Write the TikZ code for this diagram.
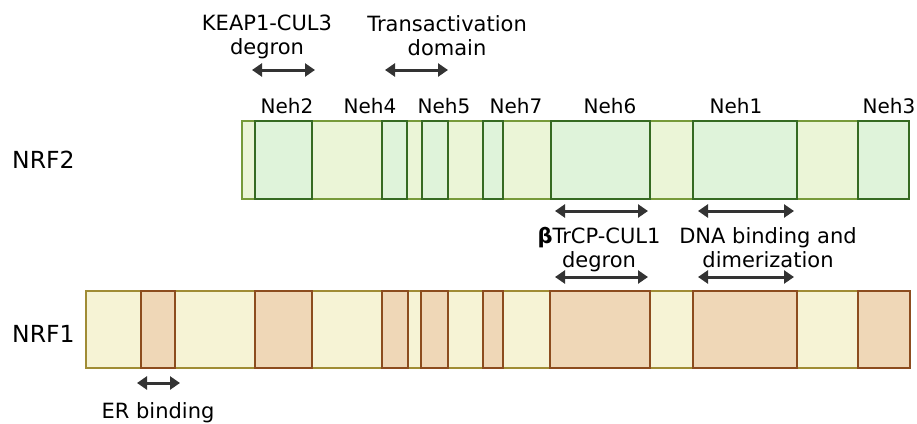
\documentclass[tikz,border=0pt]{standalone}
\usepackage{fontspec}
\setmainfont{DejaVu Sans}
\usetikzlibrary{arrows.meta}
\definecolor{nrftwolight}{HTML}{EBF5D7}
\definecolor{nrftwodom}{HTML}{DFF3DA}
\definecolor{greenline}{HTML}{366A22}
\definecolor{oliveline}{HTML}{779A3A}
\definecolor{nrfonelight}{HTML}{F6F3D5}
\definecolor{nrfonedom}{HTML}{EFD7B7}
\definecolor{brownline}{HTML}{8C4C1E}
\definecolor{goldline}{HTML}{A08C35}
\definecolor{arrowgray}{HTML}{333333}

\tikzset{
  span/.style={arrowgray, line width=3pt,
    {Triangle[length=10pt,width=13pt]}-{Triangle[length=10pt,width=13pt]}},
  lbl/.style={align=center, anchor=north, inner sep=0pt,
    font=\fontsize{21}{24}\selectfont},
  nehlbl/.style={anchor=base, inner sep=0pt, font=\fontsize{20}{24}\selectfont},
  protlbl/.style={anchor=west, inner sep=0pt, font=\fontsize{23.5}{28}\selectfont},
}

\begin{document}
\begin{tikzpicture}[x=1pt,y=-1pt]
    \useasboundingbox (0,0) rectangle (917,423);

    % NRF2
    \draw[oliveline, line width=2pt, fill=nrftwolight] (242,121) rectangle (909,199);
    \foreach \a/\b in {255/312, 382/407, 422/448, 483/503, 551/650, 693/797, 858/909}
        \draw[greenline, line width=2.6pt, fill=nrftwodom] (\a,121) rectangle (\b,199);

    % NRF1
    \draw[goldline, line width=2pt, fill=nrfonelight] (86,291) rectangle (910,368);
    \foreach \a/\b in {141/175, 255/312, 382/408, 421/448, 483/503, 550/650, 693/797, 858/910}
        \draw[brownline, line width=2.6pt, fill=nrfonedom] (\a,291) rectangle (\b,368);

    \node[protlbl] (nrf2) at (12,160) {NRF2};
    \node[protlbl] (nrf1) at (12,334) {NRF1};

    \node[nehlbl] (neh2) at (287,113) {Neh2};
    \node[nehlbl] (neh4) at (370,113) {Neh4};
    \node[nehlbl] (neh5) at (444,113) {Neh5};
    \node[nehlbl] (neh7) at (516,113) {Neh7};
    \node[nehlbl] (neh6) at (610,113) {Neh6};
    \node[nehlbl] (neh1) at (736,113) {Neh1};
    \node[nehlbl] (neh3) at (889,113) {Neh3};

    \node[lbl] (keap) at (267,15) {KEAP1-CUL3\\degron};
    \node[lbl] (trans) at (447,15) {Transactivation\\domain};
    \node[lbl] (btrcp) at (599,227) {{\bfseries β}TrCP-CUL1\\degron};
    \node[lbl] (dna) at (768,227) {DNA binding and\\dimerization};
    \node[lbl] (er) at (158,402) {ER binding};

    \coordinate (keap-l) at (252,70);  \coordinate (keap-r) at (315,70);
    \coordinate (trans-l) at (385,70); \coordinate (trans-r) at (448,70);
    \coordinate (btrcp-l) at (555,211); \coordinate (btrcp-r) at (648,211);
    \coordinate (dna-l) at (698,211);   \coordinate (dna-r) at (794,211);
    \coordinate (btrcp1-l) at (555,277); \coordinate (btrcp1-r) at (648,277);
    \coordinate (dna1-l) at (698,277);   \coordinate (dna1-r) at (794,277);
    \coordinate (er-l) at (137,383);    \coordinate (er-r) at (180,383);

    \draw[span] (keap-l) -- (keap-r);
    \draw[span] (trans-l) -- (trans-r);
    \draw[span] (btrcp-l) -- (btrcp-r);
    \draw[span] (dna-l) -- (dna-r);
    \draw[span] (btrcp1-l) -- (btrcp1-r);
    \draw[span] (dna1-l) -- (dna1-r);
    \draw[span] (er-l) -- (er-r);
\end{tikzpicture}
\end{document}
